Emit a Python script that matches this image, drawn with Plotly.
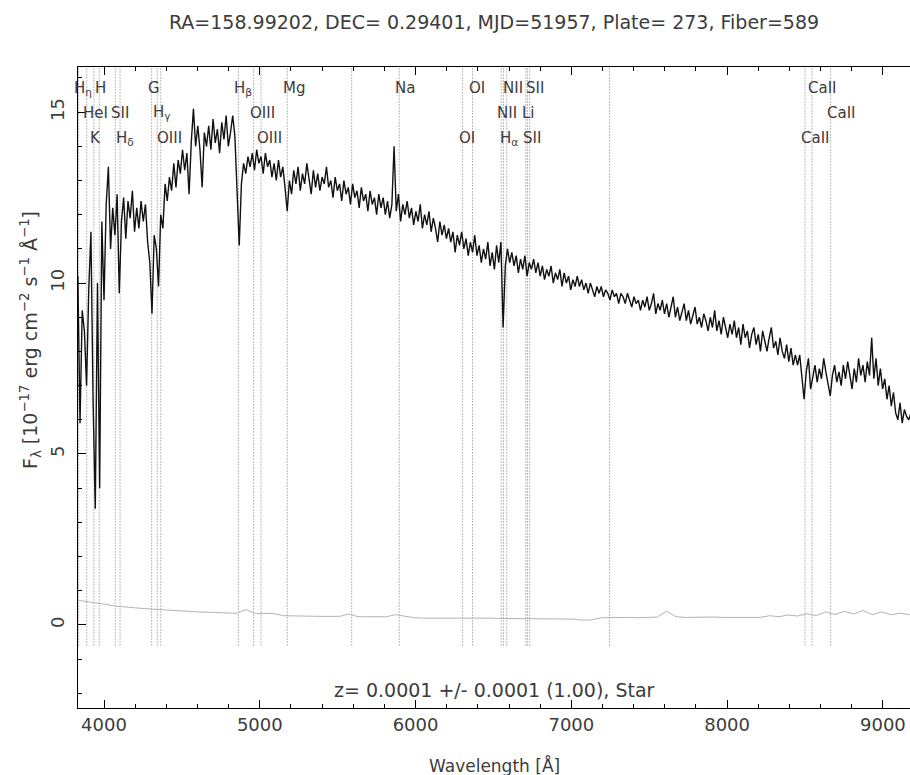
import numpy as np
import plotly.graph_objects as go

# ---------------- data ----------------
# flux sampled every 14 A starting at 3832 A (read off the picture)
flux_start = 3832
flux_step = 14
flux = [
    10.2, 5.9, 9.2, 8.6, 7.0, 9.8, 11.5, 6.5, 3.4, 10.0,
    4.0, 11.8, 9.5, 12.3, 13.4, 11.0, 12.2, 11.4, 12.6, 9.7,
    11.8, 12.5, 11.3, 12.4, 11.9, 12.7, 11.5, 12.2, 11.6, 12.4,
    11.8, 12.3, 11.2, 10.6, 9.1, 11.4, 11.0, 9.9, 12.0, 11.6,
    12.9, 12.4, 13.1, 12.7, 13.5, 12.8, 13.6, 13.2, 13.9, 13.3,
    13.8, 12.6, 14.1, 15.1, 14.0, 14.6, 13.9, 12.8, 14.4, 14.0,
    14.6, 13.9, 14.8, 14.1, 14.5, 13.8, 14.7, 14.2, 14.9, 14.0,
    14.4, 14.9, 14.3, 12.8, 11.1, 12.9, 13.5, 13.2, 13.7, 13.4,
    13.8, 13.3, 13.9, 13.5, 13.7, 13.2, 13.8, 13.4, 13.6, 13.1,
    13.5, 13.0, 13.6, 13.1, 13.4, 12.8, 12.1, 13.0, 12.6, 13.3,
    12.9, 13.4, 12.7, 13.2, 12.9, 13.5, 13.0, 12.6, 13.3, 12.8,
    13.2, 12.7, 13.1, 12.9, 13.4, 12.8, 13.0, 12.5, 13.1, 12.7,
    12.9, 12.4, 13.0, 12.6, 12.8, 12.3, 12.9, 12.5, 12.7, 12.2,
    12.8, 12.4, 12.6, 12.1, 12.7, 12.3, 12.5, 12.0, 12.6, 12.2,
    12.5, 12.0, 12.4, 11.9, 12.3, 14.0, 12.1, 12.6, 11.8, 12.3,
    12.0, 12.4, 11.9, 12.2, 11.7, 12.1, 11.8, 12.3, 11.6, 12.0,
    11.7, 12.1, 11.5, 11.9, 11.6, 11.2, 11.8, 11.4, 11.7, 11.3,
    11.6, 11.2, 11.5, 10.9, 11.4, 11.1, 11.5, 11.0, 11.3, 10.8,
    11.2, 10.9, 11.4, 10.8, 11.1, 10.6, 11.0, 10.7, 11.2, 10.5,
    10.9, 10.4, 11.1, 10.6, 11.2, 8.7, 10.5, 11.0, 10.6, 10.9,
    10.5, 10.8, 10.3, 10.7, 10.4, 10.8, 10.2, 10.6, 10.4, 10.7,
    10.3, 10.6, 10.2, 10.5, 10.1, 10.4, 10.2, 10.5, 10.0, 10.3,
    10.1, 10.4, 9.9, 10.3, 10.0, 10.2, 9.8, 10.1, 9.9, 10.2,
    9.9, 10.1, 9.8, 10.0, 9.7, 10.0, 9.8, 9.6, 9.9, 9.7,
    9.9, 9.6, 9.8, 9.7, 9.5, 9.8, 9.6, 9.7, 9.4, 9.7,
    9.6, 9.4, 9.7, 9.5, 9.3, 9.6, 9.4, 9.5, 9.2, 9.5,
    9.3, 9.6, 9.2, 9.4, 9.7, 9.1, 9.4, 9.2, 9.5, 9.1,
    9.4, 9.0, 9.3, 9.6, 9.0, 9.3, 8.9, 9.2, 9.4, 8.9,
    9.2, 8.8, 9.1, 9.3, 8.8, 9.0, 8.7, 9.1, 8.9, 8.6,
    9.0, 8.7, 9.2, 8.6, 8.9, 8.5, 9.0, 8.7, 8.4, 8.8,
    8.5, 8.9, 8.4, 8.7, 8.2, 8.8, 8.4, 8.6, 8.1, 8.5,
    8.7, 8.2, 8.5, 8.0, 8.6, 8.3, 8.0, 8.4, 8.7, 8.1,
    8.3, 7.9, 8.4, 8.0, 7.8, 8.2, 7.7, 8.1, 7.6, 7.9,
    7.6, 7.9, 7.3, 6.6, 7.4, 7.8, 6.9, 7.2, 7.6, 7.1,
    7.5, 7.2, 7.8, 7.4, 7.0, 6.7, 7.3, 7.6, 7.1, 7.4,
    7.0, 7.6, 7.2, 7.7, 7.3, 6.9, 7.5, 7.1, 7.8, 7.3,
    7.6, 7.1, 7.7, 7.3, 8.4, 7.2, 7.8, 7.0, 7.5, 6.9,
    7.2, 6.6, 7.0, 6.4, 6.8, 6.2, 6.0, 6.5, 5.9, 6.3,
    6.1, 6.0, 6.2, 5.9,
]

# error spectrum sampled every 60 A starting at 3832 A
err_start = 3832
err_step = 60
err = [
    0.72, 0.68, 0.66, 0.60, 0.55, 0.52, 0.50,
    0.48, 0.46, 0.44, 0.42, 0.41, 0.40, 0.38,
    0.37, 0.36, 0.35, 0.34, 0.45, 0.33, 0.34,
    0.33, 0.27, 0.26, 0.26, 0.25, 0.25, 0.25,
    0.25, 0.32, 0.24, 0.24, 0.24, 0.24, 0.30,
    0.25, 0.21, 0.20, 0.20, 0.20, 0.20, 0.22,
    0.20, 0.20, 0.20, 0.19, 0.19, 0.19, 0.19,
    0.19, 0.19, 0.18, 0.18, 0.17, 0.14, 0.15,
    0.21, 0.22, 0.21, 0.22, 0.21, 0.22, 0.23,
    0.40, 0.24, 0.22, 0.23, 0.22, 0.23, 0.22,
    0.22, 0.22, 0.21, 0.22, 0.27, 0.24, 0.29,
    0.26, 0.33, 0.27, 0.38, 0.30, 0.40, 0.32,
    0.42, 0.30, 0.38, 0.30, 0.34, 0.30,
]

# spectral line markers
line_wave = [3836, 3889, 3934.8, 3969.6, 4072.3, 4102.9, 4305.6, 4341.7, 4364.4,
             4862.7, 4960.3, 5008.2, 5176.7, 5590, 5895.6, 6302.0, 6365.5,
             6549.9, 6564.6, 6585.3, 6707.9, 6718.3, 6732.7, 7245,
             8500.4, 8544.4, 8664.5]
line_label = ["H<sub>η</sub>", "HeI", "K", "H", "SII", "H<sub>δ</sub>", "G", "H<sub>γ</sub>", "OIII",
              "H<sub>β</sub>", "OIII", "OIII", "Mg", "", "Na", "OI", "OI",
              "NII", "H<sub>α</sub>", "NII", "Li", "SII", "SII", "",
              "CaII", "CaII", "CaII"]
line_row = [1, 2, 3, 1, 2, 3, 1, 2, 3,
            1, 2, 3, 1, 0, 1, 3, 1,
            2, 3, 1, 2, 3, 1, 0,
            3, 1, 2]

title_text = "RA=158.99202, DEC= 0.29401, MJD=51957, Plate= 273, Fiber=589"
z_text = "z= 0.0001 +/- 0.0001 (1.00), Star"

# ---------------- figure ----------------
wave = flux_start + flux_step * np.arange(len(flux))
err_wave = err_start + err_step * np.arange(len(err))

W, H = 910, 775
ML, MR, MT, MB = 78, 0, 67, 67
FONT = "DejaVu Sans"
TXT = "#3c3c3c"

fig = go.Figure()
fig.add_trace(go.Scatter(x=err_wave, y=err, mode="lines",
                         line=dict(color="#b4b4b4", width=1), hoverinfo="skip"))
fig.add_trace(go.Scatter(x=wave, y=flux, mode="lines",
                         line=dict(color="#111111", width=1.4), hoverinfo="skip"))

plot_h = H - MT - MB
row_px = {1: 88, 2: 113, 3: 138}
shapes = []
annotations = []
for w, lab, r in zip(line_wave, line_label, line_row):
    shapes.append(dict(type="line", xref="x", yref="y", x0=w, x1=w, y0=-0.6, y1=16.32,
                       line=dict(color="#7a7a7a", width=1, dash="1px,2px"), layer="below"))
    if r > 0 and lab:
        annotations.append(dict(x=w, xref="x", y=1 - (row_px[r] - MT) / plot_h, yref="paper",
                                text=lab, showarrow=False, xanchor="left", yanchor="middle",
                                xshift=-6, font=dict(family=FONT, size=15, color=TXT)))

annotations.append(dict(x=0.5, xref="paper", y=0, yref="paper", yshift=18,
                        text=z_text, showarrow=False, xanchor="center", yanchor="middle",
                        font=dict(family=FONT, size=19, color=TXT)))
annotations.append(dict(x=0.5, xref="paper", y=0, yref="paper", yshift=-(765 - (H - MB)),
                        text="Wavelength [Å]", showarrow=False, xanchor="center", yanchor="middle",
                        font=dict(family=FONT, size=17, color=TXT)))
annotations.append(dict(x=0, xref="paper", xshift=30 - ML, y=1 - (340 - MT) / plot_h, yref="paper",
                        text="F<sub>λ</sub> [10<sup>−17</sup> erg cm<sup>−2</sup> s<sup>−1</sup> Å<sup>−1</sup>]",
                        showarrow=False, textangle=-90, xanchor="center", yanchor="middle",
                        font=dict(family=FONT, size=19, color=TXT)))

fig.update_layout(
    width=W, height=H,
    margin=dict(l=ML, r=MR, t=MT, b=MB),
    paper_bgcolor="white", plot_bgcolor="white",
    showlegend=False,
    title=dict(text=title_text, x=0.5, xref="paper", xanchor="center",
               y=1 - 22 / H, yref="container", yanchor="middle",
               font=dict(family=FONT, size=19, color=TXT)),
    shapes=shapes,
    annotations=annotations,
    font=dict(family=FONT, color=TXT),
)
fig.update_xaxes(range=[3833, 9174], showgrid=False, zeroline=False,
                 showline=True, linecolor="black", linewidth=1, mirror="ticks",
                 ticks="inside", ticklen=8, tickcolor="black", dtick=1000, tick0=0,
                 tickfont=dict(family=FONT, size=18, color=TXT),
                 minor=dict(ticks="inside", ticklen=4, dtick=200, tickcolor="black", showgrid=False))
fig.update_yaxes(range=[-2.43, 16.32], showgrid=False, zeroline=False,
                 showline=True, linecolor="black", linewidth=1, mirror=False,
                 ticks="inside", ticklen=8, tickcolor="black", dtick=5, tick0=0,
                 tickangle=-90, ticklabelstandoff=6,
                 tickfont=dict(family=FONT, size=18, color=TXT),
                 minor=dict(ticks="inside", ticklen=4, dtick=1, tickcolor="black", showgrid=False))

fig.write_html("out.html")
